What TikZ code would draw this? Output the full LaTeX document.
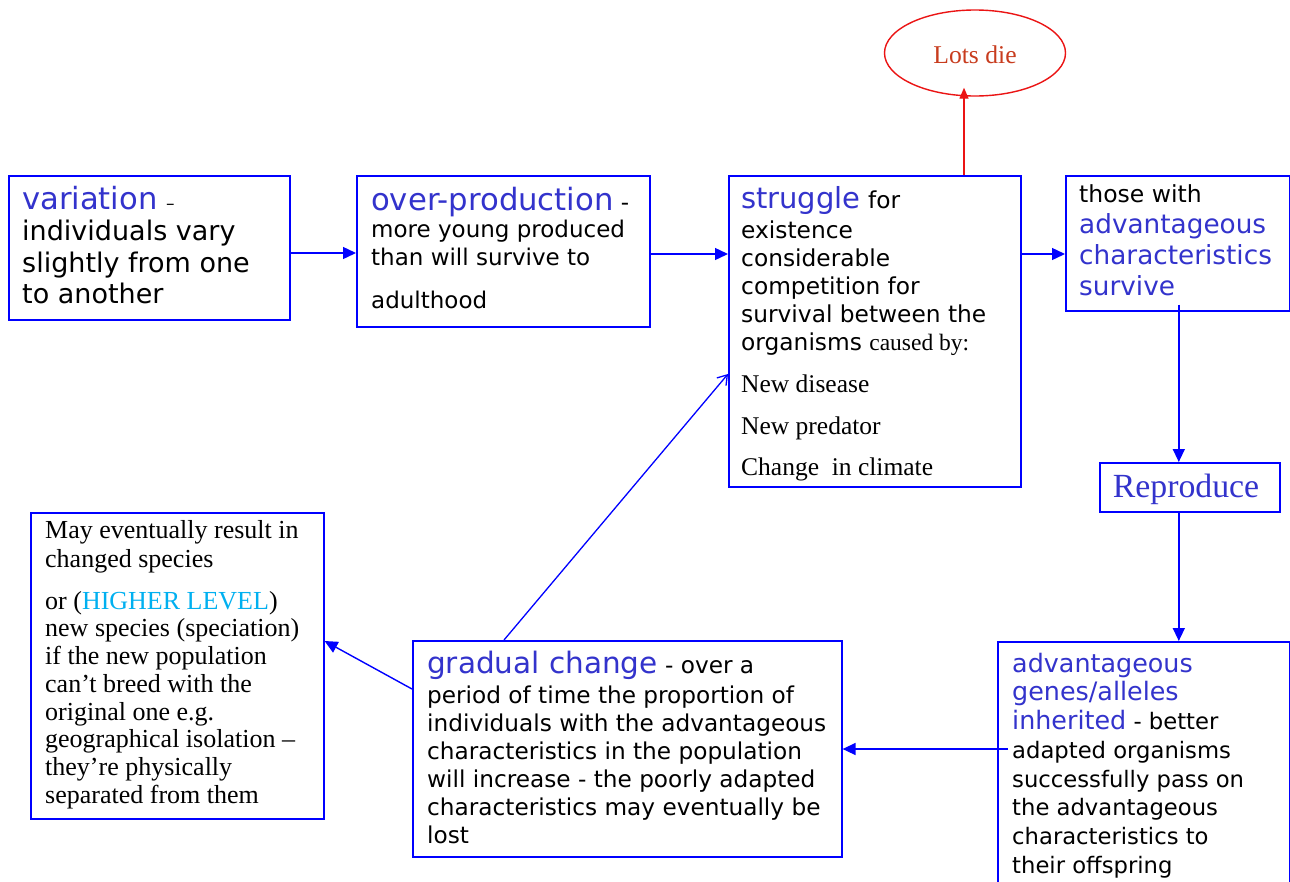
\documentclass[tikz,border=0pt]{standalone}
\usepackage{fontspec}
\setmainfont{Liberation Serif}
\setsansfont{DejaVu Sans}
\usetikzlibrary{arrows.meta,shapes.geometric,calc}
\definecolor{hblue}{RGB}{51,51,204}
\definecolor{bblue}{RGB}{0,0,255}
\definecolor{hilvl}{RGB}{0,176,240}
\definecolor{dred}{RGB}{200,60,30}
\definecolor{lred}{RGB}{235,20,20}
\begin{document}
\begin{tikzpicture}[x=1pt,y=-1pt,
  box/.style={draw=bblue, line width=1.6pt, anchor=north west, inner sep=0pt},
  txt/.style={anchor=north west, inner sep=0pt, align=left},
  arr/.style={draw=bblue, line width=1.4pt, -{Triangle[length=13pt,width=12pt]}},
  oarr/.style={draw=bblue, line width=1.3pt, -{Straight Barb[length=9pt,width=12pt]}},
]
\useasboundingbox (0,0) rectangle (1290,881);
\fill[white] (0,0) rectangle (1290,881);

% boxes
\node[box, minimum width=281pt, minimum height=144pt] (var) at (8,175) {};
\node[box, minimum width=293pt, minimum height=151pt] (over) at (356,175) {};
\node[box, minimum width=292pt, minimum height=311pt] (strug) at (728,175) {};
\node[box, minimum width=224pt, minimum height=135pt] (those) at (1065,175) {};
\node[box, minimum width=180pt, minimum height=49pt] (repro) at (1099,462) {};
\node[box, minimum width=292pt, minimum height=270pt] (genes) at (997,641) {};
\node[box, minimum width=429pt, minimum height=216pt] (grad) at (412,640) {};
\node[box, minimum width=293pt, minimum height=306pt] (may) at (30,512) {};
\node[draw=lred, line width=1.4pt, ellipse, minimum width=181pt, minimum height=86pt] (lots) at (975,53) {};

% texts
\node[txt, font=\sffamily\fontsize{27}{31.5}\selectfont] (vart) at (22,185.7)
  {\textcolor{hblue}{\fontsize{30.6}{31.5}\selectfont variation} {\fontsize{17}{31.5}\selectfont –}\\
   individuals vary\\ slightly from one\\ to another};
\node[txt, font=\sffamily\fontsize{23}{27.5}\selectfont] (overt) at (371,186.7)
  {\textcolor{hblue}{\fontsize{30.7}{27.5}\selectfont over-production} -\\
   more young produced\\ than will survive to};
\node[txt, font=\sffamily\fontsize{23}{27.5}\selectfont] (overt2) at (371,290.5) {adulthood};
\node[txt, font=\sffamily\fontsize{23.3}{28}\selectfont] (strugt) at (741,186)
  {\textcolor{hblue}{\fontsize{29}{28}\selectfont struggle} for\\[2pt] existence\\ considerable\\
   competition for\\ survival between the\\ organisms {\rmfamily\fontsize{23.5}{28}\selectfont caused by:}};
\node[txt, font=\rmfamily\fontsize{25.5}{41.5}\selectfont] (strugt2) at (741,374.6)
  {New disease\\ New predator\\ Change~ in climate};
\node[txt, font=\sffamily\fontsize{23.5}{31}\selectfont] (thoset) at (1079,184)
  {those with\\ \textcolor{hblue}{\fontsize{26.3}{31}\selectfont advantageous}\\
   \textcolor{hblue}{\fontsize{26.3}{31}\selectfont characteristics}\\
   \textcolor{hblue}{\fontsize{26.3}{31}\selectfont survive}};
\node[font=\rmfamily\fontsize{33.8}{36}\selectfont, text=hblue, inner sep=0pt, anchor=base] (reprot) at (1186,497) {Reproduce};
\node[font=\rmfamily\fontsize{25.6}{28}\selectfont, text=dred, inner sep=0pt, anchor=base] (lotst) at (975,63) {Lots die};
\node[txt, font=\rmfamily\fontsize{26}{29}\selectfont] (mayt) at (45,520.2)
  {May eventually result in\\ changed species};
\node[txt, font=\rmfamily\fontsize{26}{27.7}\selectfont] (mayt2) at (45,591)
  {or (\textcolor{hilvl}{HIGHER LEVEL})\\ new species (speciation)\\ if the new population\\
   can’t breed with the\\ original one e.g.\\ geographical isolation –\\
   they’re physically\\ separated from them};
\node[txt, font=\sffamily\fontsize{23.2}{28}\selectfont] (gradt) at (427,650.6)
  {\textcolor{hblue}{\fontsize{29.5}{28}\selectfont gradual change} - over a\\[2pt]
   period of time the proportion of\\ individuals with the advantageous\\
   characteristics in the population\\ will increase - the poorly adapted\\
   characteristics may eventually be\\ lost};
\node[txt, font=\sffamily\fontsize{22.7}{28.7}\selectfont] (genest) at (1012,652.7)
  {\textcolor{hblue}{\fontsize{25.4}{28.7}\selectfont advantageous}\\
   \textcolor{hblue}{\fontsize{25.4}{28.7}\selectfont genes/alleles}\\
   \textcolor{hblue}{\fontsize{25.4}{28.7}\selectfont inherited} - better\\
   adapted organisms\\ successfully pass on\\ the advantageous\\
   characteristics to\\ their offspring};

% connectors
\draw[arr] ([yshift=-78pt]var.north east) -- ([yshift=-78pt]over.north west);
\draw[arr] ([yshift=-79pt]over.north east) -- ([yshift=-79pt]strug.north west);
\draw[arr] ([yshift=-79pt]strug.north east) -- ([yshift=-79pt]those.north west);
\draw[arr] ([yshift=7pt,xshift=1pt]those.south) -- ([xshift=1pt]those.south |- repro.north);
\draw[arr] ([xshift=1pt]those.south |- repro.south) -- ([xshift=1pt]those.south |- genes.north);
\draw[arr] ([yshift=-108pt,xshift=11pt]genes.north west) -- ([yshift=-109pt]grad.north east);
\draw[arr] ([yshift=-49pt]grad.north west) -- ([yshift=-129pt]may.north east);
\draw[oarr] ([xshift=92pt]grad.north west) -- ([yshift=-199pt]strug.north west);
\draw[draw=lred, line width=1.4pt, -{Triangle[length=11pt,width=9pt]}, shorten >=-9pt]
  ([xshift=236pt]strug.north west) -- ([xshift=236pt]strug.north west |- lots.south);
\end{tikzpicture}
\end{document}
